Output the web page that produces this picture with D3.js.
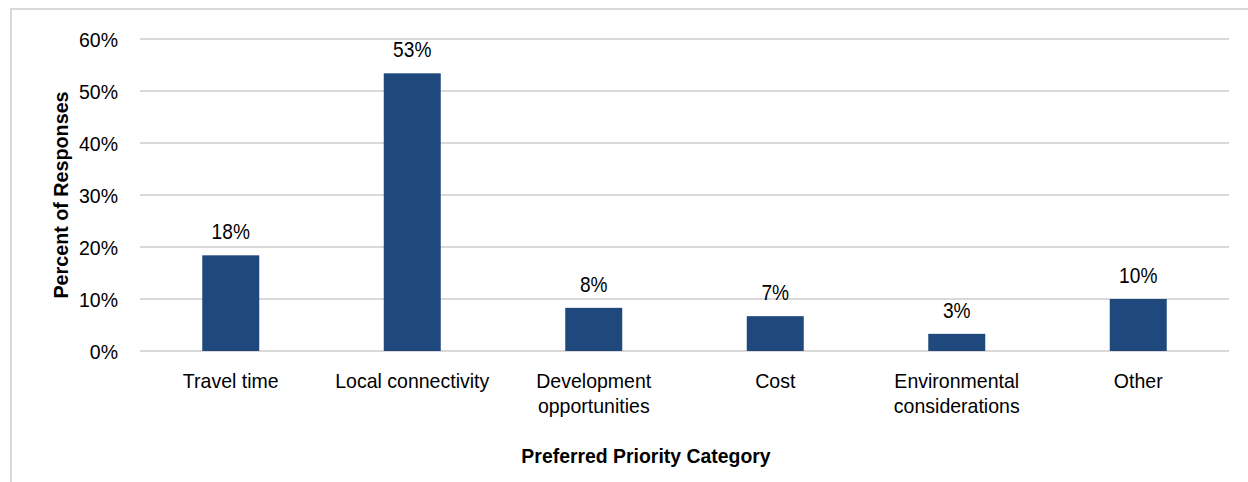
<!DOCTYPE html>
<html>
<head>
<meta charset="utf-8">
<script src="https://cdn.jsdelivr.net/npm/d3@7"></script>
<style>
  html, body { margin: 0; padding: 0; background: #fff; }
  svg { display: block; }
  text { font-family: "Liberation Sans", Arial, sans-serif; fill: #000; }
</style>
</head>
<body>
<svg id="chart" width="1248" height="482"></svg>
<script>
const categories = ["Travel time", "Local connectivity", "Development opportunities", "Cost", "Environmental considerations", "Other"];
const categoryLines = [["Travel time"], ["Local connectivity"], ["Development", "opportunities"], ["Cost"], ["Environmental", "considerations"], ["Other"]];
const values = [18.4, 53.4, 8.3, 6.7, 3.3, 10.0];
const valueLabels = ["18%", "53%", "8%", "7%", "3%", "10%"];
const yTicks = [0, 10, 20, 30, 40, 50, 60];
const yTickLabels = ["0%", "10%", "20%", "30%", "40%", "50%", "60%"];
const yTitle = "Percent of Responses";
const xTitle = "Preferred Priority Category";

const svg = d3.select("#chart");
const W = 1248, H = 482;
const plot = { left: 140, right: 1229, top: 39, bottom: 351 };
const grid = "#d9d9d9";
const barColor = "#1F497D";

// outer frame
svg.append("rect")
  .attr("x", 11).attr("y", 9)
  .attr("width", 1250).attr("height", 490)
  .attr("fill", "none").attr("stroke", grid).attr("stroke-width", 2);

const y = d3.scaleLinear().domain([0, 60]).range([plot.bottom, plot.top]);
const x = d3.scaleBand().domain(categories).range([plot.left, plot.right])
  .paddingInner(0.686).paddingOuter(0.343);

// gridlines
svg.append("g").selectAll("line").data(yTicks).join("line")
  .attr("x1", plot.left).attr("x2", plot.right)
  .attr("y1", d => y(d)).attr("y2", d => y(d))
  .attr("stroke", grid).attr("stroke-width", 2);

// y axis tick labels via d3 axis
const yAxis = d3.axisLeft(y).tickValues(yTicks)
  .tickFormat((d, i) => yTickLabels[i]).tickSize(0).tickPadding(0);
const yg = svg.append("g").attr("transform", `translate(118,0)`).call(yAxis);
yg.select(".domain").remove();
yg.selectAll("text")
  .attr("x", 0).attr("dy", null)
  .attr("font-size", 21)
  .attr("font-family", "Liberation Sans, Arial, sans-serif")
  .attr("text-anchor", "end")
  .attr("dominant-baseline", "central")
  .attr("transform", "scale(0.93,1)");

// bars
svg.append("g").selectAll("rect").data(values).join("rect")
  .attr("x", (d, i) => x(categories[i]))
  .attr("y", d => y(d))
  .attr("width", x.bandwidth())
  .attr("height", d => y(0) - y(d))
  .attr("fill", barColor);

// data labels
svg.append("g").selectAll("text").data(values).join("text")
  .attr("transform", (d, i) => `translate(${x(categories[i]) + x.bandwidth() / 2},${y(d) - 16}) scale(0.87,1)`)
  .attr("text-anchor", "middle")
  .attr("font-size", 22)
  .text((d, i) => valueLabels[i]);

// category labels
const cg = svg.append("g");
categoryLines.forEach((lines, i) => {
  const cx = x(categories[i]) + x.bandwidth() / 2;
  lines.forEach((ln, j) => {
    cg.append("text")
      .attr("transform", `translate(${cx},${388 + j * 25}) scale(0.93,1)`)
      .attr("text-anchor", "middle")
      .attr("font-size", 21)
      .text(ln);
  });
});

// axis titles
svg.append("text")
  .attr("transform", `translate(646,463) scale(0.925,1)`)
  .attr("text-anchor", "middle")
  .attr("font-size", 21).attr("font-weight", "bold")
  .text(xTitle);

svg.append("text")
  .attr("transform", `translate(68,${(plot.top + plot.bottom) / 2}) rotate(-90) scale(0.94,1)`)
  .attr("text-anchor", "middle")
  .attr("font-size", 21).attr("font-weight", "bold")
  .text(yTitle);
</script>
</body>
</html>
